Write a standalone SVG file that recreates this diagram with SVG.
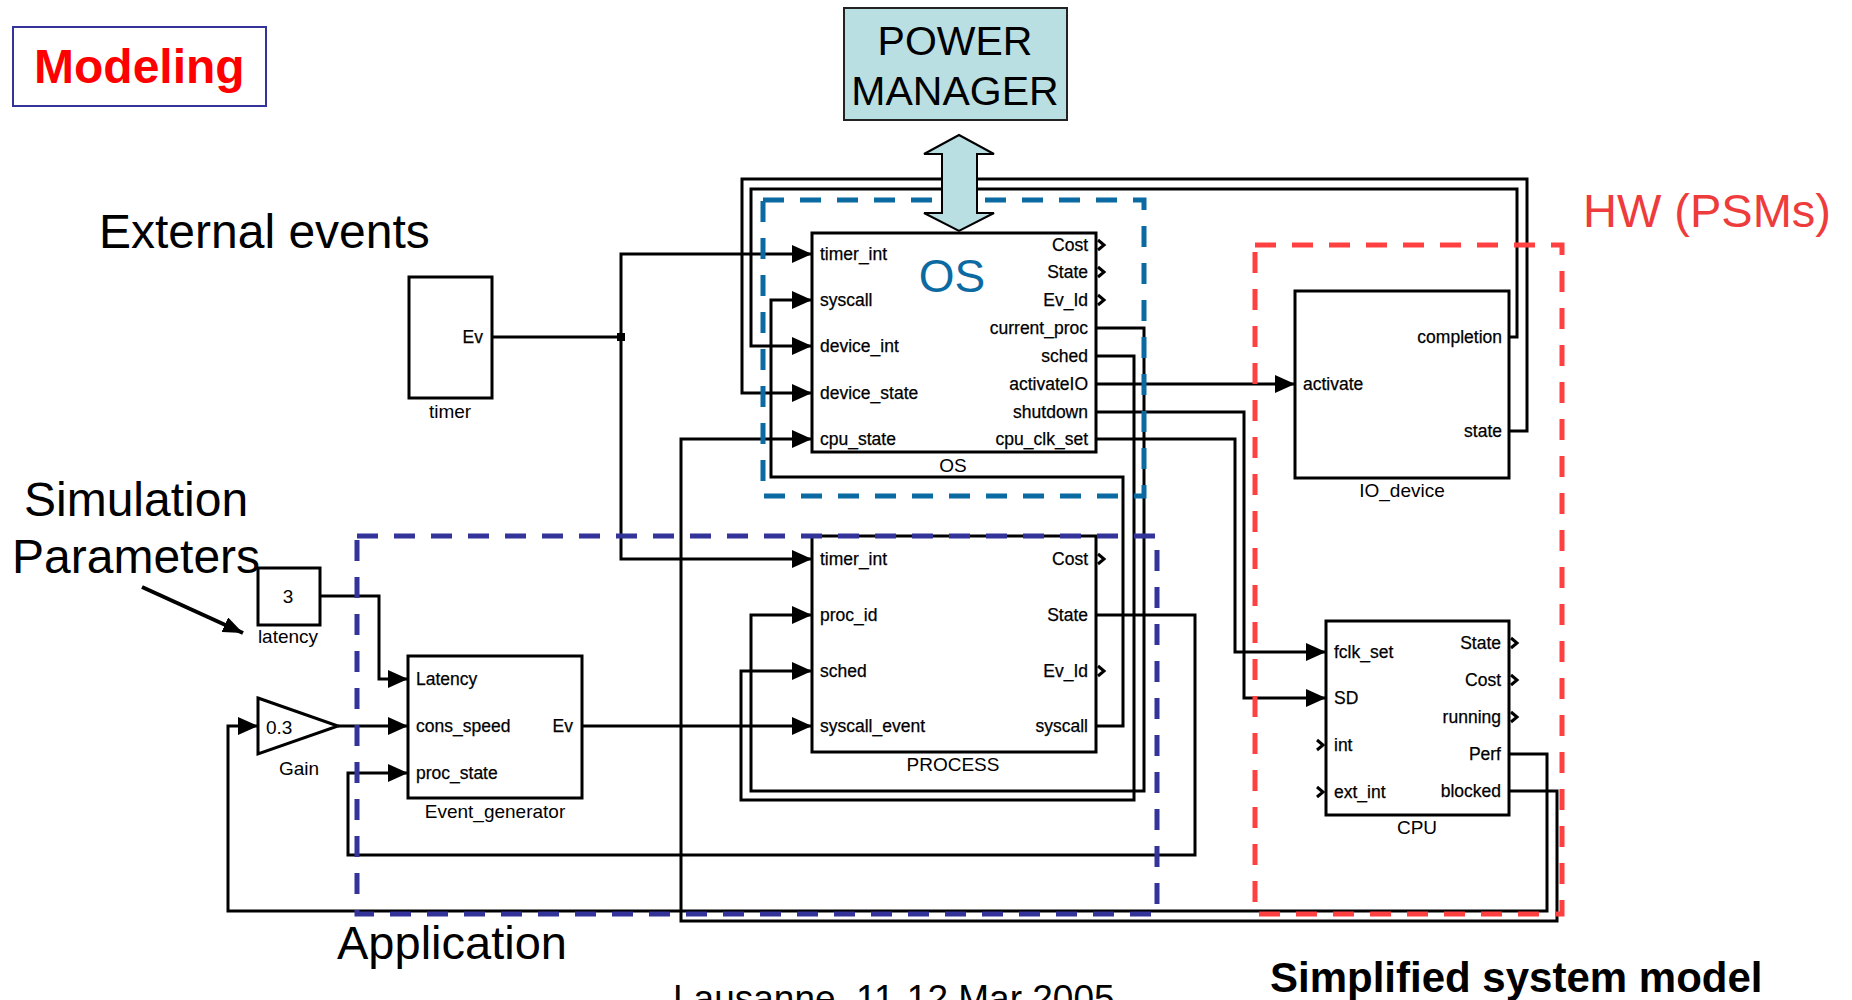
<svg xmlns="http://www.w3.org/2000/svg" width="1852" height="1000" viewBox="0 0 1852 1000">
<defs>
<style>
text{font-family:"Liberation Sans",Arial,sans-serif;fill:#000}
.blk{fill:#fff;stroke:#000;stroke-width:3}
.port{font-size:17.5px;stroke:#000;stroke-width:0.25}
.end{text-anchor:end}
.lbl{font-size:19px;text-anchor:middle}
.w{fill:none;stroke:#000;stroke-width:3}
.wa{fill:none;stroke:#000;stroke-width:3;marker-end:url(#arr)}
.chev{fill:none;stroke:#000;stroke-width:3}
.region{fill:none;stroke-width:5;stroke-dasharray:21 16}
.big{font-size:48px}
</style>
<marker id="arr" viewBox="0 0 20 18" refX="20" refY="9" markerWidth="20" markerHeight="18" markerUnits="userSpaceOnUse" orient="auto"><path d="M0,0 L20,9 L0,18 Z" fill="#000"/></marker>
<marker id="arrBig" viewBox="0 0 20 16" refX="20" refY="8" markerWidth="20" markerHeight="16" markerUnits="userSpaceOnUse" orient="auto"><path d="M0,0 L20,8 L0,16 Z" fill="#000"/></marker>
</defs>
<rect width="1852" height="1000" fill="#fff"/>

<g id="title">
<rect x="13" y="27" width="253" height="79" fill="#fff" stroke="#333399" stroke-width="2"/>
<text x="34" y="83" font-size="48" font-weight="bold" style="fill:#ff0000">Modeling</text>
</g>

<g id="connectors">
<path class="wa" d="M492,337 H621 V254 H812"/>
<path class="wa" d="M621,337 V559 H812"/>
<rect x="617" y="333" width="8" height="8" fill="#000"/>
<path class="wa" d="M1096,726 H1123 V477 H771 V300 H812"/>
<path class="wa" d="M1509,337 H1517 V189 H751 V346 H812"/>
<path class="wa" d="M1509,431 H1527 V179 H742 V393 H812"/>
<path class="wa" d="M1509,791 H1557 V921 H681 V439 H812"/>
<path class="wa" d="M1096,328 H1144 V791 H751 V615 H812"/>
<path class="wa" d="M1096,356 H1134 V800 H741 V671 H812"/>
<path class="wa" d="M1096,384 H1295"/>
<path class="wa" d="M1096,412 H1244 V698 H1326"/>
<path class="wa" d="M1096,439 H1235 V652 H1326"/>
<path class="wa" d="M1096,615 H1195 V855 H348 V773 H408"/>
<path class="wa" d="M582,726 H812"/>
<path class="wa" d="M320,596 H379 V679 H408"/>
<path class="wa" d="M338,726 H408"/>
<path class="wa" d="M1509,754 H1547 V911 H228 V726 H258"/>
</g>

<g id="timer">
<rect class="blk" x="409" y="277" width="83" height="121"/>
<text class="port end" x="483" y="343">Ev</text>
<text class="lbl" x="450" y="418">timer</text>
</g>

<g id="os">
<rect class="blk" x="812" y="233" width="284" height="219"/>
<text class="port" x="820" y="260">timer_int</text>
<text class="port" x="820" y="306">syscall</text>
<text class="port" x="820" y="352">device_int</text>
<text class="port" x="820" y="399">device_state</text>
<text class="port" x="820" y="445">cpu_state</text>
<text class="port end" x="1088" y="251">Cost</text>
<text class="port end" x="1088" y="278">State</text>
<text class="port end" x="1088" y="306">Ev_Id</text>
<text class="port end" x="1088" y="334">current_proc</text>
<text class="port end" x="1088" y="362">sched</text>
<text class="port end" x="1088" y="390">activateIO</text>
<text class="port end" x="1088" y="418">shutdown</text>
<text class="port end" x="1088" y="445">cpu_clk_set</text>
<polyline class="chev" points="1098,240 1104,245 1098,250"/>
<polyline class="chev" points="1098,267 1104,272 1098,277"/>
<polyline class="chev" points="1098,295 1104,300 1098,305"/>
<text class="lbl" x="953" y="472">OS</text>
<text x="952" y="292" font-size="46" text-anchor="middle" style="fill:#0b6aa2">OS</text>
</g>

<g id="process">
<rect class="blk" x="812" y="536" width="284" height="216"/>
<text class="port" x="820" y="565">timer_int</text>
<text class="port" x="820" y="621">proc_id</text>
<text class="port" x="820" y="677">sched</text>
<text class="port" x="820" y="732">syscall_event</text>
<text class="port end" x="1088" y="565">Cost</text>
<text class="port end" x="1088" y="621">State</text>
<text class="port end" x="1088" y="677">Ev_Id</text>
<text class="port end" x="1088" y="732">syscall</text>
<polyline class="chev" points="1098,554 1104,559 1098,564"/>
<polyline class="chev" points="1098,666 1104,671 1098,676"/>
<text class="lbl" x="953" y="771">PROCESS</text>
</g>

<g id="latency">
<rect class="blk" x="258" y="568" width="62" height="57"/>
<text class="lbl" x="288" y="603">3</text>
<text class="lbl" x="288" y="643">latency</text>
</g>

<g id="gain">
<polygon points="258,698 338,726 258,754" fill="#fff" stroke="#000" stroke-width="3"/>
<text x="266" y="734" font-size="19">0.3</text>
<text class="lbl" x="299" y="775">Gain</text>
</g>

<g id="event-generator">
<rect class="blk" x="408" y="656" width="174" height="142"/>
<text class="port" x="416" y="685">Latency</text>
<text class="port" x="416" y="732">cons_speed</text>
<text class="port" x="416" y="779">proc_state</text>
<text class="port end" x="573" y="732">Ev</text>
<text class="lbl" x="495" y="818">Event_generator</text>
</g>

<g id="io-device">
<rect class="blk" x="1295" y="291" width="214" height="187"/>
<text class="port" x="1303" y="390">activate</text>
<text class="port end" x="1502" y="343">completion</text>
<text class="port end" x="1502" y="437">state</text>
<text class="lbl" x="1402" y="497">IO_device</text>
</g>

<g id="cpu">
<rect class="blk" x="1326" y="621" width="183" height="194"/>
<text class="port" x="1334" y="658">fclk_set</text>
<text class="port" x="1334" y="704">SD</text>
<text class="port" x="1334" y="751">int</text>
<text class="port" x="1334" y="798">ext_int</text>
<text class="port end" x="1501" y="649">State</text>
<text class="port end" x="1501" y="686">Cost</text>
<text class="port end" x="1501" y="723">running</text>
<text class="port end" x="1501" y="760">Perf</text>
<text class="port end" x="1501" y="797">blocked</text>
<polyline class="chev" points="1511,638 1517,643 1511,648"/>
<polyline class="chev" points="1511,675 1517,680 1511,685"/>
<polyline class="chev" points="1511,712 1517,717 1511,722"/>
<polyline class="chev" points="1317,740 1323,745 1317,750"/>
<polyline class="chev" points="1317,787 1323,792 1317,797"/>
<text class="lbl" x="1417" y="834">CPU</text>
</g>

<g id="regions">
<rect class="region" x="763" y="200" width="381" height="296" stroke="#0b6aa2"/>
<rect class="region" x="357" y="536" width="800" height="378" stroke="#333399"/>
<rect class="region" x="1255" y="245" width="307" height="669" stroke="#ff4040"/>
</g>

<g id="power-manager">
<rect x="844" y="8" width="223" height="112" fill="#b9dfe2" stroke="#222" stroke-width="2"/>
<text x="955" y="55" font-size="41" text-anchor="middle">POWER</text>
<text x="955" y="105" font-size="41" text-anchor="middle">MANAGER</text>
<path d="M959,135 L994,154 L977,154 L977,213 L994,213 L959,231 L924,213 L942,213 L942,154 L924,154 Z" fill="#b9dfe2" stroke="#000" stroke-width="2"/>
</g>

<g id="annotations">
<text class="big" x="99" y="248">External events</text>
<text class="big" x="24" y="516">Simulation</text>
<text class="big" x="12" y="573">Parameters</text>
<path d="M142,587 L243,633" fill="none" stroke="#000" stroke-width="4" marker-end="url(#arrBig)"/>
<text x="1583" y="227" font-size="47" style="fill:#ee3b3b">HW (PSMs)</text>
<text x="337" y="959" font-size="47">Application</text>
<text x="1270" y="992" font-size="42" font-weight="bold">Simplified system model</text>
<text x="673" y="1011" font-size="37">Lausanne, 11-12 Mar 2005</text>
</g>
</svg>
